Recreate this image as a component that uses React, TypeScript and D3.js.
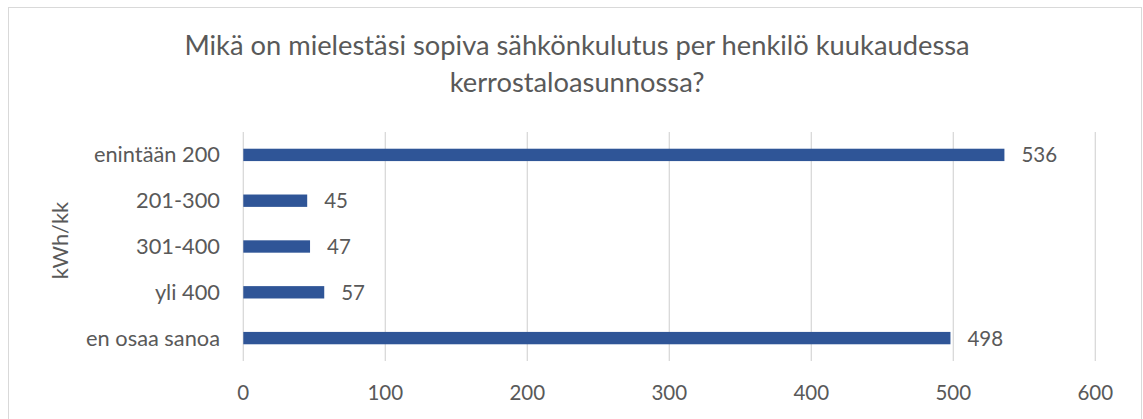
import React from "react";
import * as d3 from "d3";

const categories = ["enintään 200", "201-300", "301-400", "yli 400", "en osaa sanoa"];
const values = [536, 45, 47, 57, 498];
const xTicks = [0, 100, 200, 300, 400, 500, 600];
const titleLines = [
  "Mikä on mielestäsi sopiva sähkönkulutus per henkilö kuukaudessa",
  "kerrostaloasunnossa?",
];
const yAxisTitle = "kWh/kk";

const W = 1143;
const H = 419;
const FONT = "Lato, 'Open Sans', sans-serif";
const TEXT = "#595959";
const LABEL = 20.5;
const CAT = 21.8;

export default function App() {
  const x = d3.scaleLinear().domain([0, 600]).range([243.3, 1095.3]);
  const y = d3.scaleBand<string>().domain(categories).range([132, 361]).paddingInner(0.73).paddingOuter(0.365);

  return (
    <svg width={W} height={H} style={{ position: "absolute", left: 0, top: 0 }}>
      <rect x={0} y={0} width={W} height={H} fill="#fff" />
      <rect x={8.5} y={7.5} width={1133} height={420} fill="#fff" stroke="#D9D9D9" strokeWidth={1} />
      {titleLines.map((t, i) => (
        <text key={i} x={577} y={55 + i * 36.7} textAnchor="middle" fontFamily={FONT} fontSize={27.3} fill={TEXT}>
          {t}
        </text>
      ))}
      {xTicks.map((t) => (
        <g key={t}>
          <line x1={x(t)} x2={x(t)} y1={132} y2={361} stroke="#D9D9D9" strokeWidth={1.3} />
          <text x={x(t)} y={400} textAnchor="middle" fontFamily={FONT} fontSize={LABEL} fill={TEXT}>
            {t}
          </text>
        </g>
      ))}
      {categories.map((c, i) => {
        const yy = y(c)!;
        const bw = y.bandwidth();
        return (
          <g key={c}>
            <rect x={x(0)} y={yy} width={x(values[i]) - x(0)} height={bw} fill="#2F5597" />
            <text x={220} y={yy + bw / 2 + 7.5} textAnchor="end" fontFamily={FONT} fontSize={CAT} fill={TEXT}>
              {c}
            </text>
            <text x={x(values[i]) + 17} y={yy + bw / 2 + 7.5} textAnchor="start" fontFamily={FONT} fontSize={LABEL} fill={TEXT}>
              {values[i]}
            </text>
          </g>
        );
      })}
      <text
        transform={`translate(68,240.5) rotate(-90)`}
        textAnchor="middle"
        fontFamily={FONT}
        fontSize={CAT}
        fill={TEXT}
      >
        {yAxisTitle}
      </text>
    </svg>
  );
}
